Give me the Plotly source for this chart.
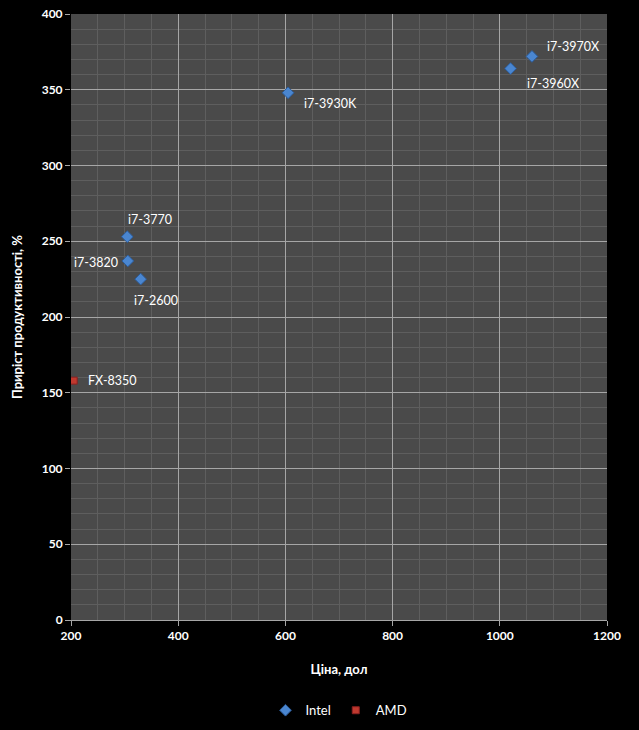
import plotly.graph_objects as go

intel_names = ["i7-3970X", "i7-3960X", "i7-3930K", "i7-3770", "i7-3820", "i7-2600"]
intel_price = [1060, 1020, 605, 305, 306, 330]
intel_perf = [372, 364, 348, 253, 237, 225]

amd_names = ["FX-8350"]
amd_price = [205]
amd_perf = [158]

x_ticks = [200, 400, 600, 800, 1000, 1200]
y_ticks = [0, 50, 100, 150, 200, 250, 300, 350, 400]

# label placement (anchor, shift) per point
intel_label_pos = [
    ("left", "bottom", 13, 0),
    ("left", "top", 14, -5),
    ("left", "top", 14, -1),
    ("left", "bottom", -1, 8),
    ("right", "middle", -8, -2),
    ("left", "top", -9, -12),
]
amd_label_pos = [("left", "middle", 12, 0)]

fig = go.Figure()
fig.add_trace(go.Scatter(
    x=intel_price, y=intel_perf, mode="markers", name="Intel",
    marker=dict(symbol="diamond", size=9, color="#4a86d0",
                line=dict(color="#2c5c9a", width=1)),
))
fig.add_trace(go.Scatter(
    x=amd_price, y=amd_perf, mode="markers", name="AMD",
    marker=dict(symbol="square", size=7, color="#c0392f",
                line=dict(color="#8a2020", width=1)),
))

label_font = dict(family="Lato, Noto Sans, sans-serif", size=12.5, color="#ffffff")
for names, xs, ys, pos in [(intel_names, intel_price, intel_perf, intel_label_pos),
                           (amd_names, amd_price, amd_perf, amd_label_pos)]:
    for n, xv, yv, (xa, ya, dx, dy) in zip(names, xs, ys, pos):
        fig.add_annotation(x=xv, y=yv, text=n, showarrow=False,
                           xanchor=xa, yanchor=ya, xshift=dx, yshift=dy,
                           font=label_font)

tick_font = dict(family="Lato, Noto Sans, sans-serif", size=12, color="#ffffff", weight="bold")
title_font = dict(family="Lato, Noto Sans, sans-serif", size=13, color="#ffffff", weight="bold")

fig.update_layout(
    width=639, height=730,
    paper_bgcolor="#000000", plot_bgcolor="#4a4a4a",
    margin=dict(l=71, r=32, t=14, b=110, autoexpand=False),
    showlegend=True,
    legend=dict(orientation="h", x=0.5, xanchor="center", y=-0.149, yanchor="middle",
                font=dict(family="Lato, Noto Sans, sans-serif", size=13, color="#ffffff"),
                itemwidth=30, bgcolor="rgba(0,0,0,0)"),
    xaxis=dict(
        range=[200, 1200], tickvals=x_ticks, ticktext=[str(v) for v in x_ticks],
        automargin=False,
        showgrid=True, gridcolor="#a6a6a6", gridwidth=1,
        minor=dict(dtick=50, showgrid=True, gridcolor="#5e5e5e", gridwidth=1),
        zeroline=False, showline=True, linecolor="#a6a6a6", linewidth=1,
        ticks="outside", ticklen=5, tickcolor="#a6a6a6",
        tickfont=tick_font,
        title=dict(text="Ціна, дол", font=title_font, standoff=22),
    ),
    yaxis=dict(
        range=[0, 400], tickvals=y_ticks, ticktext=[str(v) for v in y_ticks],
        automargin=False,
        showgrid=True, gridcolor="#a6a6a6", gridwidth=1,
        minor=dict(dtick=10, showgrid=True, gridcolor="#5e5e5e", gridwidth=1),
        zeroline=False, showline=True, linecolor="#000000", linewidth=1,
        ticks="outside", ticklen=5, tickcolor="#a6a6a6",
        tickfont=tick_font,
        title=dict(text="Приріст продуктивності, %", font=title_font, standoff=16),
    ),
)

fig.write_html("out.html")
